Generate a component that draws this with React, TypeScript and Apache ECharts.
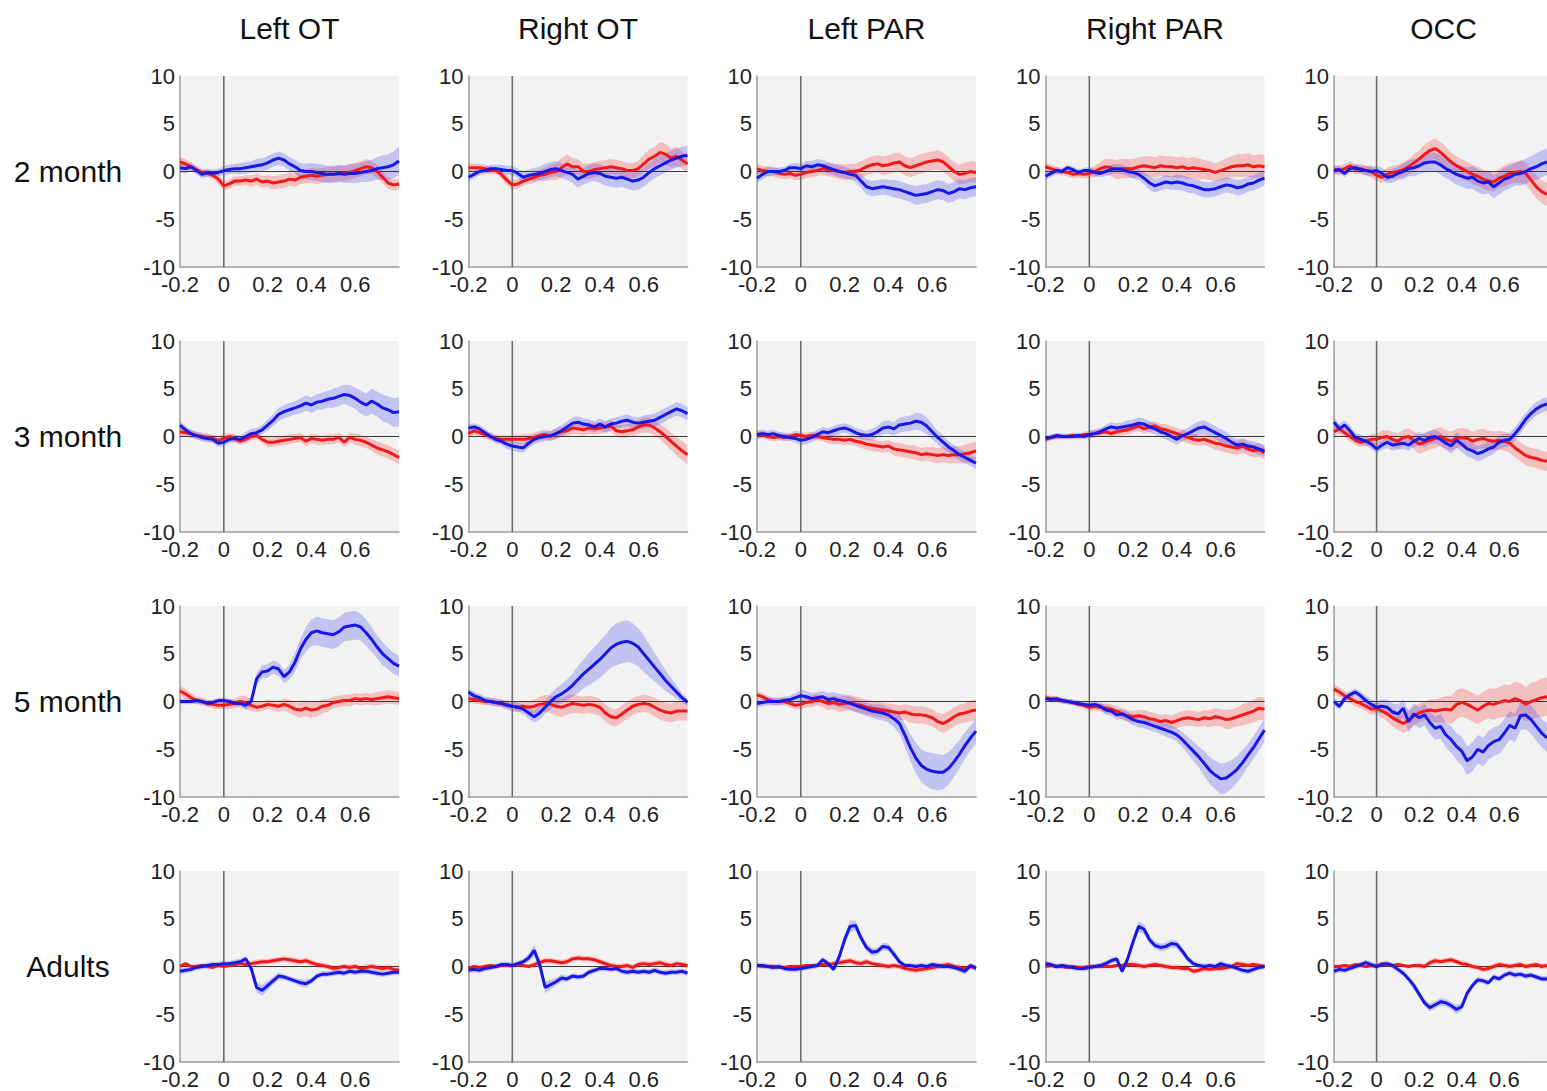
import React, { useEffect, useRef } from "react";
import * as echarts from "echarts";

// Sample times (s) shared by every waveform
const times = [
  -0.2, -0.175, -0.15, -0.125, -0.1, -0.075, -0.05, -0.025,
  0, 0.025, 0.05, 0.075, 0.1, 0.125, 0.15, 0.175,
  0.2, 0.225, 0.25, 0.275, 0.3, 0.325, 0.35, 0.375,
  0.4, 0.425, 0.45, 0.475, 0.5, 0.525, 0.55, 0.575,
  0.6, 0.625, 0.65, 0.675, 0.7, 0.725, 0.75, 0.775, 0.8,
];

const rowLabels = ["2 month", "3 month", "5 month", "Adults"];
const columnTitles = ["Left OT", "Right OT", "Left PAR", "Right PAR", "OCC"];

// ---------- 2 month ----------
const m2LotRed = [
  1.0, 0.8, 0.5, 0.2, -0.1, -0.2, -0.4, -0.8,
  -1.5, -1.3, -1.0, -1.0, -0.9, -1.0, -0.8, -1.1,
  -1.0, -1.2, -1.1, -1.0, -0.8, -0.9, -0.6, -0.5,
  -0.4, -0.5, -0.4, -0.3, -0.3, -0.2, -0.2, -0.1,
  0.1, 0.3, 0.5, 0.4, 0.0, -0.6, -1.2, -1.4, -1.3,
];
const m2LotRedSem = [
  0.5, 0.5, 0.5, 0.4, 0.4, 0.4, 0.4, 0.5,
  0.5, 0.5, 0.5, 0.5, 0.5, 0.6, 0.6, 0.6,
  0.6, 0.7, 0.7, 0.7, 0.7, 0.7, 0.7, 0.7,
  0.8, 0.8, 0.8, 0.8, 0.8, 0.8, 0.8, 0.8,
  0.8, 0.8, 0.8, 0.7, 0.7, 0.6, 0.6, 0.6, 0.6,
];
const m2LotBlue = [
  0.4, 0.3, 0.5, 0.1, -0.3, -0.1, -0.2, -0.1,
  0.1, 0.2, 0.3, 0.3, 0.4, 0.5, 0.6, 0.7,
  0.9, 1.2, 1.4, 1.2, 0.8, 0.5, 0.1, 0.0,
  0.0, -0.1, -0.2, -0.3, -0.3, -0.2, -0.3, -0.2,
  -0.2, -0.1, 0.0, 0.1, 0.3, 0.4, 0.5, 0.7, 1.1,
];
const m2LotBlueSem = [
  0.5, 0.5, 0.4, 0.4, 0.4, 0.4, 0.4, 0.4,
  0.5, 0.5, 0.5, 0.6, 0.6, 0.6, 0.7, 0.7,
  0.7, 0.7, 0.7, 0.7, 0.7, 0.7, 0.8, 0.8,
  0.9, 0.9, 0.9, 0.9, 0.9, 0.9, 0.9, 1.0,
  1.0, 1.0, 1.1, 1.1, 1.2, 1.3, 1.3, 1.4, 1.5,
];

const m2RotRed = [
  0.4, 0.4, 0.4, 0.3, 0.1, 0.1, -0.3, -0.9,
  -1.4, -1.3, -1.0, -0.8, -0.6, -0.4, -0.3, -0.1,
  0.0, 0.4, 0.8, 0.5, 0.5, 0.0, 0.0, 0.2,
  0.3, 0.4, 0.5, 0.4, 0.3, 0.1, 0.1, 0.3,
  0.8, 1.3, 1.6, 2.0, 1.8, 1.4, 1.6, 1.2, 0.8,
];
const m2RotRedSem = [
  0.4, 0.4, 0.4, 0.4, 0.4, 0.4, 0.4, 0.5,
  0.5, 0.5, 0.5, 0.5, 0.6, 0.6, 0.7, 0.8,
  0.9, 1.0, 1.0, 0.9, 0.8, 0.8, 0.8, 0.8,
  0.8, 0.8, 0.8, 0.8, 0.8, 0.8, 0.8, 0.8,
  0.9, 1.0, 1.0, 1.1, 1.1, 1.0, 1.0, 0.9, 0.9,
];
const m2RotBlue = [
  -0.6, -0.3, 0.0, 0.1, 0.3, 0.3, 0.2, 0.1,
  0.1, -0.2, -0.6, -0.4, -0.3, -0.2, 0.0, 0.2,
  0.3, 0.1, -0.1, -0.3, -0.8, -0.5, -0.2, -0.1,
  -0.2, -0.5, -0.6, -0.7, -0.6, -0.8, -1.0, -0.9,
  -0.6, -0.1, 0.3, 0.6, 0.9, 1.2, 1.4, 1.6, 1.7,
];
const m2RotBlueSem = [
  0.4, 0.4, 0.4, 0.4, 0.4, 0.4, 0.5, 0.5,
  0.5, 0.5, 0.6, 0.6, 0.7, 0.7, 0.8, 0.8,
  0.8, 0.8, 0.8, 0.9, 0.9, 0.9, 0.9, 0.9,
  1.0, 1.0, 1.0, 1.0, 1.0, 1.0, 1.0, 1.0,
  1.0, 1.0, 1.0, 1.0, 1.0, 1.0, 1.0, 1.0, 1.0,
];

const m2LparRed = [
  0.3, 0.1, 0.0, 0.0, -0.2, -0.3, -0.2, -0.4,
  -0.3, -0.1, 0.0, 0.1, 0.3, 0.2, 0.1, 0.0,
  -0.1, 0.0, 0.0, 0.2, 0.5, 0.7, 0.8, 0.6,
  0.7, 0.9, 1.0, 0.6, 0.4, 0.6, 0.8, 1.0,
  1.1, 1.2, 1.0, 0.5, 0.0, -0.3, -0.2, 0.0, -0.1,
];
const m2LparRedSem = [
  0.5, 0.5, 0.5, 0.5, 0.5, 0.5, 0.5, 0.5,
  0.6, 0.6, 0.6, 0.6, 0.6, 0.7, 0.7, 0.8,
  0.8, 0.8, 0.8, 0.9, 0.9, 0.9, 0.9, 1.0,
  1.0, 1.0, 1.0, 1.0, 1.0, 1.0, 1.0, 1.0,
  1.0, 1.0, 1.0, 1.0, 1.0, 1.0, 1.1, 1.1, 1.1,
];
const m2LparBlue = [
  -0.7, -0.3, 0.0, 0.0, 0.0, 0.1, 0.4, 0.4,
  0.3, 0.6, 0.5, 0.7, 0.6, 0.4, 0.2, 0.0,
  -0.1, -0.3, -0.4, -1.0, -1.6, -1.8, -1.7, -1.6,
  -1.7, -1.8, -1.9, -2.1, -2.3, -2.5, -2.4, -2.3,
  -2.1, -1.9, -2.0, -2.3, -2.1, -1.8, -1.9, -1.7, -1.6,
];
const m2LparBlueSem = [
  0.5, 0.5, 0.5, 0.4, 0.4, 0.4, 0.4, 0.5,
  0.5, 0.5, 0.6, 0.6, 0.6, 0.6, 0.6, 0.6,
  0.6, 0.6, 0.7, 0.7, 0.8, 0.8, 0.8, 0.8,
  0.8, 0.9, 0.9, 0.9, 0.9, 1.0, 1.0, 1.0,
  1.0, 1.0, 1.0, 1.0, 1.0, 1.0, 1.0, 1.0, 1.0,
];

const m2RparRed = [
  0.5, 0.3, 0.1, 0.0, -0.1, -0.3, -0.2, -0.3,
  -0.2, 0.0, 0.3, 0.5, 0.4, 0.2, 0.3, 0.3,
  0.3, 0.5, 0.6, 0.5, 0.4, 0.6, 0.5, 0.5,
  0.4, 0.5, 0.3, 0.4, 0.3, 0.2, 0.1, -0.1,
  0.1, 0.3, 0.5, 0.6, 0.6, 0.7, 0.5, 0.6, 0.5,
];
const m2RparRedSem = [
  0.4, 0.4, 0.4, 0.4, 0.4, 0.4, 0.4, 0.4,
  0.5, 0.6, 0.7, 0.8, 0.9, 1.0, 1.0, 1.0,
  1.0, 1.0, 1.0, 1.1, 1.1, 1.1, 1.1, 1.1,
  1.1, 1.1, 1.1, 1.1, 1.1, 1.0, 1.0, 1.0,
  1.0, 1.1, 1.1, 1.2, 1.2, 1.2, 1.2, 1.2, 1.2,
];
const m2RparBlue = [
  -0.5, -0.2, 0.1, 0.0, 0.4, 0.2, -0.1, 0.1,
  0.1, -0.1, -0.2, 0.0, 0.2, 0.3, 0.2, 0.0,
  -0.1, -0.3, -0.7, -1.2, -1.5, -1.3, -1.1, -1.2,
  -1.1, -1.2, -1.4, -1.5, -1.7, -1.9, -1.9, -1.8,
  -1.6, -1.4, -1.5, -1.7, -1.6, -1.3, -1.2, -0.9, -0.7,
];
const m2RparBlueSem = [
  0.4, 0.4, 0.4, 0.3, 0.3, 0.3, 0.3, 0.3,
  0.4, 0.4, 0.4, 0.5, 0.5, 0.5, 0.5, 0.5,
  0.6, 0.6, 0.6, 0.7, 0.7, 0.7, 0.7, 0.7,
  0.8, 0.8, 0.8, 0.8, 0.8, 0.8, 0.8, 0.8,
  0.8, 0.8, 0.8, 0.8, 0.8, 0.8, 0.8, 0.8, 0.8,
];

const m2OccRed = [
  0.2, 0.1, 0.3, 0.6, 0.2, 0.3, 0.1, 0.0,
  -0.4, -0.6, -0.3, -0.1, 0.0, 0.2, 0.5, 0.9,
  1.3, 1.8, 2.2, 2.4, 2.0, 1.5, 1.0, 0.6,
  0.3, 0.0, -0.3, -0.5, -0.8, -1.0, -1.1, -0.7,
  -0.5, -0.2, -0.1, 0.0, -0.2, -0.9, -1.6, -2.1, -2.4,
];
const m2OccRedSem = [
  0.5, 0.5, 0.5, 0.5, 0.5, 0.5, 0.5, 0.6,
  0.6, 0.6, 0.7, 0.7, 0.7, 0.8, 0.8, 0.9,
  0.9, 1.0, 1.0, 1.1, 1.1, 1.1, 1.0, 1.0,
  1.0, 1.0, 1.0, 1.0, 1.0, 1.0, 1.0, 1.0,
  1.1, 1.1, 1.1, 1.2, 1.2, 1.2, 1.2, 1.2, 1.2,
];
const m2OccBlue = [
  0.1, 0.2, -0.2, 0.3, 0.4, 0.2, 0.1, 0.0,
  0.1, -0.2, -0.6, -0.5, -0.2, 0.0, 0.3, 0.4,
  0.6, 0.9, 1.0, 1.0, 0.7, 0.3, 0.0, -0.3,
  -0.5, -0.7, -0.6, -1.0, -1.2, -1.1, -1.6, -1.2,
  -0.8, -0.6, -0.3, -0.2, 0.0, 0.3, 0.5, 0.8, 1.0,
];
const m2OccBlueSem = [
  0.4, 0.4, 0.4, 0.4, 0.4, 0.4, 0.5, 0.5,
  0.5, 0.6, 0.6, 0.7, 0.7, 0.8, 0.8, 0.9,
  0.9, 1.0, 1.0, 1.0, 1.0, 1.0, 1.0, 1.1,
  1.1, 1.1, 1.2, 1.2, 1.2, 1.2, 1.2, 1.2,
  1.2, 1.2, 1.2, 1.3, 1.3, 1.3, 1.4, 1.4, 1.4,
];

// ---------- 3 month ----------
const m3LotRed = [
  0.5, 0.4, 0.3, 0.1, 0.0, -0.1, -0.2, -0.4,
  -0.2, 0.0, -0.2, -0.5, -0.3, 0.0, 0.1, -0.3,
  -0.6, -0.6, -0.5, -0.4, -0.3, -0.2, -0.1, -0.5,
  -0.2, -0.3, -0.4, -0.3, -0.3, -0.1, -0.6, -0.1,
  -0.3, -0.4, -0.6, -0.9, -1.2, -1.4, -1.6, -1.9, -2.2,
];
const m3LotRedSem = [
  0.4, 0.4, 0.4, 0.4, 0.4, 0.4, 0.4, 0.4,
  0.4, 0.4, 0.4, 0.4, 0.4, 0.4, 0.4, 0.4,
  0.5, 0.5, 0.5, 0.5, 0.5, 0.5, 0.5, 0.5,
  0.5, 0.5, 0.5, 0.5, 0.5, 0.5, 0.5, 0.5,
  0.6, 0.6, 0.6, 0.6, 0.7, 0.7, 0.7, 0.7, 0.7,
];
const m3LotBlue = [
  1.2, 0.7, 0.3, 0.1, -0.1, -0.2, -0.3, -0.7,
  -0.6, -0.3, -0.2, -0.3, 0.0, 0.3, 0.4, 0.7,
  1.2, 1.7, 2.3, 2.6, 2.8, 3.0, 3.2, 3.5,
  3.3, 3.6, 3.7, 3.9, 4.0, 4.2, 4.4, 4.3,
  4.0, 3.6, 3.3, 3.7, 3.4, 3.0, 2.8, 2.5, 2.6,
];
const m3LotBlueSem = [
  0.4, 0.4, 0.4, 0.4, 0.4, 0.4, 0.4, 0.4,
  0.4, 0.4, 0.4, 0.4, 0.5, 0.5, 0.5, 0.5,
  0.6, 0.6, 0.7, 0.7, 0.7, 0.7, 0.8, 0.8,
  0.8, 0.8, 0.9, 0.9, 1.0, 1.0, 1.0, 1.1,
  1.1, 1.2, 1.2, 1.3, 1.3, 1.4, 1.4, 1.5, 1.5,
];

const m3RotRed = [
  0.3, 0.6, 0.4, 0.2, 0.0, -0.2, -0.3, -0.3,
  -0.3, -0.3, -0.3, -0.2, -0.1, 0.1, 0.2, 0.0,
  0.3, 0.5, 0.6, 0.9, 0.8, 0.7, 0.9, 0.8,
  0.9, 1.0, 1.1, 0.6, 0.5, 0.6, 0.7, 1.0,
  1.2, 1.2, 0.9, 0.5, 0.0, -0.5, -1.0, -1.5, -1.9,
];
const m3RotRedSem = [
  0.4, 0.4, 0.4, 0.4, 0.4, 0.4, 0.4, 0.4,
  0.4, 0.5, 0.5, 0.5, 0.5, 0.5, 0.5, 0.5,
  0.5, 0.5, 0.6, 0.6, 0.6, 0.6, 0.6, 0.6,
  0.6, 0.6, 0.6, 0.6, 0.7, 0.7, 0.7, 0.7,
  0.8, 0.8, 0.8, 0.8, 0.9, 0.9, 1.0, 1.0, 1.0,
];
const m3RotBlue = [
  0.9, 1.0, 0.8, 0.4, 0.0, -0.3, -0.5, -0.8,
  -1.0, -1.1, -1.2, -0.7, -0.3, -0.1, 0.0, 0.1,
  0.3, 0.6, 1.0, 1.4, 1.5, 1.3, 1.2, 1.0,
  1.3, 1.0, 1.3, 1.4, 1.6, 1.7, 1.5, 1.4,
  1.5, 1.6, 1.7, 2.0, 2.3, 2.6, 2.9, 2.7, 2.4,
];
const m3RotBlueSem = [
  0.4, 0.4, 0.4, 0.4, 0.4, 0.4, 0.4, 0.5,
  0.5, 0.5, 0.5, 0.5, 0.5, 0.5, 0.5, 0.5,
  0.6, 0.6, 0.6, 0.6, 0.6, 0.6, 0.6, 0.6,
  0.6, 0.6, 0.6, 0.6, 0.6, 0.6, 0.6, 0.6,
  0.7, 0.7, 0.7, 0.7, 0.7, 0.7, 0.7, 0.7, 0.7,
];

const m3LparRed = [
  0.1, 0.2, 0.0, -0.1, 0.0, -0.1, 0.0, 0.2,
  0.1, 0.0, 0.1, 0.0, -0.1, -0.2, -0.3, -0.3,
  -0.4, -0.3, -0.5, -0.6, -0.8, -0.9, -1.0, -1.1,
  -1.0, -1.3, -1.4, -1.5, -1.6, -1.7, -1.9, -1.8,
  -1.9, -2.0, -1.9, -2.0, -1.9, -1.9, -1.8, -1.7, -1.5,
];
const m3LparRedSem = [
  0.4, 0.4, 0.4, 0.4, 0.4, 0.4, 0.4, 0.4,
  0.4, 0.4, 0.4, 0.4, 0.4, 0.5, 0.5, 0.5,
  0.5, 0.5, 0.5, 0.6, 0.6, 0.6, 0.6, 0.6,
  0.6, 0.7, 0.7, 0.7, 0.7, 0.7, 0.7, 0.7,
  0.8, 0.8, 0.8, 0.8, 0.9, 0.9, 1.0, 1.0, 1.0,
];
const m3LparBlue = [
  0.2, 0.3, 0.2, 0.3, 0.1, 0.0, -0.1, -0.2,
  -0.4, -0.3, -0.1, 0.2, 0.5, 0.4, 0.6, 0.8,
  0.9, 0.7, 0.4, 0.2, 0.1, 0.2, 0.5, 0.9,
  1.0, 0.8, 1.2, 1.3, 1.4, 1.6, 1.5, 1.1,
  0.5, -0.1, -0.6, -1.1, -1.5, -1.9, -2.2, -2.5, -2.8,
];
const m3LparBlueSem = [
  0.4, 0.4, 0.4, 0.4, 0.4, 0.4, 0.4, 0.4,
  0.5, 0.5, 0.5, 0.5, 0.5, 0.5, 0.5, 0.5,
  0.5, 0.5, 0.5, 0.5, 0.5, 0.6, 0.6, 0.7,
  0.7, 0.7, 0.8, 0.8, 0.8, 0.9, 0.9, 0.9,
  0.8, 0.7, 0.7, 0.6, 0.6, 0.6, 0.6, 0.6, 0.6,
];

const m3RparRed = [
  -0.3, -0.1, 0.0, 0.0, 0.0, 0.1, 0.0, 0.2,
  0.2, 0.3, 0.4, 0.5, 0.3, 0.5, 0.6, 0.7,
  0.9, 1.1, 0.8, 1.0, 1.1, 0.8, 0.7, 0.5,
  0.3, 0.1, -0.1, -0.3, -0.4, -0.3, -0.5, -0.7,
  -0.8, -1.0, -1.1, -1.2, -1.0, -1.3, -1.5, -1.4, -1.7,
];
const m3RparRedSem = [
  0.3, 0.3, 0.3, 0.3, 0.3, 0.3, 0.3, 0.3,
  0.4, 0.4, 0.4, 0.4, 0.4, 0.4, 0.5, 0.5,
  0.5, 0.5, 0.5, 0.5, 0.5, 0.5, 0.6, 0.6,
  0.6, 0.6, 0.6, 0.6, 0.6, 0.6, 0.6, 0.7,
  0.7, 0.7, 0.7, 0.7, 0.7, 0.7, 0.7, 0.7, 0.7,
];
const m3RparBlue = [
  -0.2, -0.1, 0.1, 0.0, 0.0, 0.0, 0.1, 0.0,
  0.2, 0.3, 0.5, 0.8, 1.0, 0.9, 1.0, 1.1,
  1.2, 1.4, 1.3, 1.0, 0.8, 0.5, 0.3, 0.0,
  -0.3, 0.1, 0.3, 0.6, 0.9, 1.0, 0.7, 0.4,
  0.1, -0.2, -0.6, -0.9, -0.8, -1.0, -1.1, -1.3, -1.5,
];
const m3RparBlueSem = [
  0.3, 0.3, 0.3, 0.3, 0.3, 0.3, 0.3, 0.3,
  0.4, 0.4, 0.4, 0.4, 0.5, 0.5, 0.5, 0.6,
  0.6, 0.6, 0.6, 0.6, 0.6, 0.6, 0.6, 0.6,
  0.6, 0.6, 0.6, 0.7, 0.7, 0.7, 0.7, 0.7,
  0.7, 0.7, 0.6, 0.6, 0.6, 0.6, 0.6, 0.6, 0.6,
];

const m3OccRed = [
  0.5, 0.8, 0.4, 0.0, -0.4, -0.6, -0.5, -0.3,
  -0.3, -0.1, 0.0, -0.3, -0.5, -0.1, 0.0, -0.4,
  -0.8, -0.6, -0.4, -0.2, 0.0, -0.3, -0.5, -0.2,
  -0.1, -0.2, -0.5, -0.3, -0.2, -0.4, -0.5, -0.4,
  -0.5, -0.7, -1.2, -1.6, -2.0, -2.2, -2.3, -2.5, -2.6,
];
const m3OccRedSem = [
  0.5, 0.5, 0.5, 0.5, 0.5, 0.5, 0.5, 0.6,
  0.6, 0.7, 0.7, 0.8, 0.8, 0.8, 0.9, 0.9,
  1.0, 1.0, 1.0, 1.0, 1.0, 1.0, 1.0, 1.0,
  1.0, 1.0, 1.0, 1.0, 1.0, 1.0, 1.0, 1.0,
  1.0, 1.0, 1.0, 1.0, 1.0, 1.0, 1.0, 1.0, 1.0,
];
const m3OccBlue = [
  1.5, 0.8, 1.2, 0.6, -0.1, -0.3, -0.5, -0.8,
  -1.3, -0.9, -0.6, -0.9, -0.8, -0.7, -0.9, -0.5,
  -0.2, -0.4, -0.1, 0.0, -0.3, -0.7, -1.0, -0.4,
  -0.8, -1.3, -1.5, -1.8, -1.6, -1.3, -1.1, -0.6,
  -0.4, -0.3, 0.3, 1.0, 1.8, 2.4, 2.9, 3.2, 3.4,
];
const m3OccBlueSem = [
  0.5, 0.5, 0.5, 0.5, 0.5, 0.5, 0.5, 0.5,
  0.5, 0.5, 0.6, 0.6, 0.6, 0.6, 0.6, 0.6,
  0.7, 0.7, 0.7, 0.7, 0.7, 0.7, 0.8, 0.8,
  0.8, 0.8, 0.8, 0.8, 0.8, 0.8, 0.7, 0.7,
  0.7, 0.7, 0.7, 0.7, 0.7, 0.7, 0.7, 0.7, 0.7,
];

// ---------- 5 month ----------
const m5LotRed = [
  1.1, 0.8, 0.4, 0.1, 0.0, -0.2, -0.3, -0.4,
  -0.4, -0.3, -0.2, 0.0, -0.1, -0.4, -0.6, -0.5,
  -0.3, -0.4, -0.5, -0.3, -0.5, -0.8, -0.9, -0.7,
  -0.9, -0.8, -0.5, -0.4, -0.1, 0.0, 0.1, 0.1,
  0.3, 0.2, 0.3, 0.2, 0.3, 0.4, 0.5, 0.4, 0.3,
];
const m5LotRedSem = [
  0.5, 0.5, 0.5, 0.4, 0.4, 0.4, 0.4, 0.4,
  0.4, 0.5, 0.5, 0.6, 0.7, 0.6, 0.5, 0.5,
  0.5, 0.5, 0.6, 0.6, 0.7, 0.7, 0.8, 0.8,
  0.8, 0.8, 0.7, 0.7, 0.6, 0.6, 0.6, 0.6,
  0.6, 0.6, 0.6, 0.6, 0.7, 0.7, 0.7, 0.7, 0.7,
];
const m5LotBlue = [
  0.0, 0.0, 0.0, 0.1, 0.0, -0.2, -0.1, 0.1,
  0.1, 0.0, -0.2, -0.2, -0.4, 0.0, 2.4, 3.1,
  3.2, 3.6, 3.4, 2.6, 3.1, 4.1, 5.5, 6.5,
  7.2, 7.4, 7.2, 7.1, 7.0, 7.3, 7.8, 7.9,
  8.0, 7.8, 7.2, 6.5, 5.7, 5.0, 4.5, 4.0, 3.7,
];
const m5LotBlueSem = [
  0.3, 0.3, 0.3, 0.3, 0.3, 0.3, 0.3, 0.3,
  0.3, 0.3, 0.3, 0.3, 0.4, 0.5, 0.6, 0.7,
  0.7, 0.7, 0.7, 0.7, 0.8, 1.0, 1.1, 1.3,
  1.4, 1.5, 1.5, 1.5, 1.5, 1.5, 1.5, 1.5,
  1.5, 1.4, 1.4, 1.3, 1.2, 1.2, 1.1, 1.1, 1.1,
];

const m5RotRed = [
  0.3, 0.2, 0.1, 0.0, 0.0, -0.1, -0.2, -0.3,
  -0.5, -0.6, -0.5, -0.6, -0.5, -0.3, -0.2, -0.3,
  -0.5, -0.6, -0.4, -0.2, -0.3, -0.4, -0.3, -0.4,
  -0.6, -1.2, -1.6, -1.7, -1.3, -0.9, -0.5, -0.3,
  -0.2, -0.3, -0.6, -0.9, -1.1, -1.2, -1.0, -1.0, -1.0,
];
const m5RotRedSem = [
  0.4, 0.4, 0.4, 0.4, 0.4, 0.4, 0.4, 0.4,
  0.5, 0.5, 0.5, 0.6, 0.7, 0.8, 0.9, 0.9,
  1.0, 1.0, 1.0, 1.0, 0.9, 0.9, 0.9, 0.9,
  0.9, 0.9, 0.9, 0.9, 0.9, 0.9, 0.9, 0.9,
  0.9, 0.9, 1.0, 1.0, 1.0, 1.0, 1.0, 1.0, 1.0,
];
const m5RotBlue = [
  1.0, 0.6, 0.4, 0.1, 0.0, -0.1, -0.2, -0.4,
  -0.5, -0.6, -0.8, -1.2, -1.6, -1.2, -0.6, 0.0,
  0.5, 0.8, 1.2, 1.7, 2.3, 2.9, 3.4, 3.9,
  4.4, 5.0, 5.6, 6.0, 6.2, 6.3, 6.1, 5.7,
  5.0, 4.3, 3.6, 2.9, 2.2, 1.6, 1.0, 0.4, -0.1,
];
const m5RotBlueSem = [
  0.4, 0.4, 0.4, 0.4, 0.4, 0.4, 0.4, 0.4,
  0.5, 0.5, 0.5, 0.6, 0.6, 0.7, 0.7, 0.8,
  0.9, 1.0, 1.1, 1.2, 1.4, 1.5, 1.7, 1.8,
  1.9, 2.0, 2.1, 2.2, 2.2, 2.2, 2.1, 2.0,
  1.9, 1.7, 1.5, 1.3, 1.1, 0.9, 0.7, 0.5, 0.4,
];

const m5LparRed = [
  0.7, 0.5, 0.2, 0.0, 0.0, 0.0, -0.2, -0.4,
  -0.3, -0.1, 0.0, 0.2, 0.0, -0.2, -0.1, -0.3,
  -0.2, -0.1, -0.3, -0.4, -0.6, -0.7, -0.8, -0.9,
  -1.0, -1.1, -1.2, -1.1, -1.3, -1.4, -1.4, -1.5,
  -1.7, -2.1, -2.3, -2.0, -1.6, -1.3, -1.2, -1.0, -0.9,
];
const m5LparRedSem = [
  0.4, 0.4, 0.4, 0.4, 0.4, 0.4, 0.4, 0.4,
  0.5, 0.5, 0.6, 0.6, 0.6, 0.7, 0.7, 0.8,
  0.8, 0.8, 0.8, 0.8, 0.8, 0.8, 0.8, 0.8,
  0.8, 0.8, 0.8, 0.8, 0.9, 0.9, 0.9, 0.9,
  0.9, 0.9, 1.0, 1.0, 1.0, 1.0, 1.0, 1.1, 1.1,
];
const m5LparBlue = [
  -0.2, -0.1, 0.0, 0.0, 0.0, 0.1, 0.2, 0.4,
  0.6, 0.5, 0.3, 0.4, 0.5, 0.2, 0.3, 0.1,
  0.0, -0.2, -0.4, -0.6, -0.8, -1.0, -1.1, -1.2,
  -1.4, -1.8, -2.3, -3.5, -4.8, -5.9, -6.7, -7.1,
  -7.3, -7.4, -7.4, -7.0, -6.3, -5.5, -4.6, -3.8, -3.1,
];
const m5LparBlueSem = [
  0.4, 0.4, 0.4, 0.4, 0.4, 0.4, 0.4, 0.5,
  0.6, 0.6, 0.6, 0.6, 0.6, 0.7, 0.7, 0.7,
  0.7, 0.7, 0.7, 0.7, 0.7, 0.7, 0.8, 0.8,
  0.8, 0.9, 1.0, 1.2, 1.4, 1.6, 1.7, 1.8,
  1.9, 1.9, 1.8, 1.7, 1.6, 1.5, 1.4, 1.3, 1.3,
];

const m5RparRed = [
  0.4, 0.3, 0.2, 0.1, 0.0, -0.1, -0.3, -0.4,
  -0.6, -0.5, -0.6, -0.7, -0.8, -1.0, -1.3, -1.5,
  -1.6, -1.5, -1.6, -1.8, -1.9, -2.1, -2.0, -2.2,
  -2.0, -1.8, -1.7, -1.8, -1.9, -1.7, -1.8, -1.6,
  -1.7, -1.9, -1.8, -1.6, -1.4, -1.2, -1.0, -0.7, -0.8,
];
const m5RparRedSem = [
  0.3, 0.3, 0.3, 0.3, 0.3, 0.3, 0.3, 0.3,
  0.4, 0.4, 0.4, 0.5, 0.5, 0.5, 0.6, 0.6,
  0.6, 0.6, 0.7, 0.7, 0.7, 0.7, 0.7, 0.7,
  0.8, 0.8, 0.8, 0.8, 0.8, 0.8, 0.9, 0.9,
  0.9, 1.0, 1.0, 1.0, 1.1, 1.1, 1.2, 1.2, 1.2,
];
const m5RparBlue = [
  0.3, 0.2, 0.3, 0.1, 0.0, -0.1, -0.2, -0.3,
  -0.4, -0.3, -0.5, -0.9, -1.0, -1.4, -1.3, -1.6,
  -1.9, -2.1, -2.2, -2.4, -2.6, -2.8, -3.0, -3.2,
  -3.5, -4.0, -4.6, -5.2, -5.8, -6.5, -7.2, -7.7,
  -8.1, -8.0, -7.6, -7.1, -6.4, -5.6, -4.8, -3.9, -3.0,
];
const m5RparBlueSem = [
  0.3, 0.3, 0.3, 0.3, 0.3, 0.3, 0.3, 0.3,
  0.4, 0.4, 0.4, 0.5, 0.5, 0.5, 0.5, 0.5,
  0.6, 0.6, 0.6, 0.6, 0.6, 0.6, 0.7, 0.7,
  0.7, 0.8, 0.9, 1.0, 1.1, 1.3, 1.4, 1.5,
  1.6, 1.6, 1.5, 1.4, 1.3, 1.2, 1.2, 1.2, 1.2,
];

const m5OccRed = [
  1.3, 1.0, 0.6, 0.3, 0.0, -0.2, -0.5, -0.8,
  -0.7, -1.0, -1.3, -1.7, -2.0, -2.3, -2.0, -1.5,
  -1.2, -1.0, -0.9, -1.0, -0.9, -0.8, -0.9, -0.3,
  -0.1, -0.3, -0.6, -0.9, -0.5, -0.2, -0.3, -0.1,
  0.1, 0.0, 0.3, 0.1, -0.3, 0.0, 0.2, 0.4, 0.5,
];
const m5OccRedSem = [
  0.5, 0.5, 0.5, 0.5, 0.5, 0.5, 0.5, 0.6,
  0.6, 0.7, 0.8, 0.9, 1.0, 1.0, 1.0, 1.0,
  1.0, 1.0, 1.1, 1.2, 1.3, 1.4, 1.5, 1.5,
  1.5, 1.5, 1.5, 1.5, 1.5, 1.6, 1.6, 1.6,
  1.7, 1.7, 1.8, 1.8, 1.8, 1.9, 1.9, 2.0, 2.0,
];
const m5OccBlue = [
  0.0, -0.5, 0.3, 0.7, 1.0, 0.6, 0.1, -0.3,
  -0.6, -0.5, -0.6, -1.1, -1.3, -0.7, -2.1, -1.3,
  -1.7, -1.4, -2.2, -2.8, -2.6, -3.5, -4.0, -4.7,
  -5.2, -6.2, -5.8, -5.0, -5.3, -4.6, -4.2, -4.0,
  -3.3, -2.5, -2.8, -1.5, -1.4, -1.9, -2.6, -3.3, -3.8,
];
const m5OccBlueSem = [
  0.4, 0.4, 0.4, 0.4, 0.4, 0.4, 0.5, 0.5,
  0.6, 0.7, 0.8, 0.9, 1.0, 1.0, 1.1, 1.1,
  1.1, 1.1, 1.2, 1.2, 1.3, 1.3, 1.4, 1.4,
  1.5, 1.5, 1.5, 1.5, 1.5, 1.5, 1.5, 1.5,
  1.5, 1.5, 1.5, 1.5, 1.5, 1.5, 1.5, 1.5, 1.5,
];

// ---------- Adults ----------
const adLotRed = [
  0.0, 0.3, 0.0, 0.0, 0.1, 0.0, -0.1, 0.1,
  0.0, 0.1, 0.2, 0.3, 0.2, 0.3, 0.4, 0.5,
  0.5, 0.6, 0.7, 0.8, 0.7, 0.6, 0.5, 0.6,
  0.4, 0.2, 0.1, 0.0, -0.2, -0.1, 0.0, -0.1,
  0.0, -0.2, -0.1, 0.0, -0.1, -0.2, -0.1, -0.3, -0.4,
];
const adLotRedSem = [
  0.2, 0.2, 0.2, 0.2, 0.2, 0.2, 0.2, 0.2,
  0.2, 0.2, 0.2, 0.2, 0.2, 0.3, 0.3, 0.3,
  0.3, 0.3, 0.3, 0.3, 0.3, 0.3, 0.3, 0.3,
  0.3, 0.3, 0.3, 0.3, 0.3, 0.3, 0.3, 0.3,
  0.3, 0.3, 0.3, 0.3, 0.3, 0.3, 0.3, 0.3, 0.3,
];
const adLotBlue = [
  -0.5, -0.4, -0.3, -0.1, 0.0, 0.1, 0.2, 0.2,
  0.3, 0.3, 0.4, 0.5, 0.8, -0.2, -2.2, -2.5,
  -2.0, -1.5, -1.0, -1.1, -1.3, -1.5, -1.7, -1.8,
  -1.5, -1.0, -0.8, -0.8, -0.7, -0.6, -0.7, -0.5,
  -0.6, -0.5, -0.5, -0.6, -0.7, -0.8, -0.7, -0.6, -0.6,
];
const adLotBlueSem = [
  0.3, 0.3, 0.3, 0.3, 0.3, 0.3, 0.3, 0.3,
  0.3, 0.3, 0.3, 0.3, 0.3, 0.4, 0.5, 0.6,
  0.5, 0.4, 0.4, 0.3, 0.3, 0.3, 0.4, 0.4,
  0.3, 0.3, 0.3, 0.3, 0.3, 0.3, 0.3, 0.3,
  0.3, 0.3, 0.3, 0.3, 0.3, 0.3, 0.3, 0.3, 0.3,
];

const adRotRed = [
  -0.2, 0.0, -0.1, 0.0, 0.1, 0.0, 0.1, 0.1,
  0.1, 0.2, 0.1, 0.0, 0.2, 0.4, 0.6, 0.6,
  0.5, 0.4, 0.5, 0.8, 0.9, 0.8, 0.8, 0.7,
  0.5, 0.3, 0.1, 0.0, 0.0, 0.1, -0.1, 0.2,
  0.3, 0.2, 0.3, 0.4, 0.2, 0.1, 0.3, 0.2, 0.1,
];
const adRotRedSem = [
  0.2, 0.2, 0.2, 0.2, 0.2, 0.2, 0.2, 0.2,
  0.2, 0.2, 0.2, 0.2, 0.3, 0.3, 0.3, 0.3,
  0.3, 0.3, 0.3, 0.3, 0.3, 0.3, 0.3, 0.3,
  0.3, 0.3, 0.3, 0.3, 0.3, 0.3, 0.3, 0.3,
  0.3, 0.3, 0.3, 0.3, 0.3, 0.3, 0.3, 0.3, 0.3,
];
const adRotBlue = [
  -0.4, -0.3, -0.4, -0.2, -0.1, 0.0, 0.2, 0.2,
  0.1, 0.3, 0.5, 0.9, 1.7, 0.2, -2.2, -1.9,
  -1.6, -1.2, -1.3, -1.0, -1.1, -1.0, -0.6, -0.4,
  -0.2, -0.2, -0.3, -0.2, -0.5, -0.6, -0.5, -0.6,
  -0.5, -0.6, -0.4, -0.6, -0.7, -0.6, -0.6, -0.5, -0.7,
];
const adRotBlueSem = [
  0.3, 0.3, 0.3, 0.3, 0.3, 0.3, 0.3, 0.3,
  0.3, 0.3, 0.3, 0.4, 0.6, 0.6, 0.6, 0.5,
  0.4, 0.4, 0.3, 0.3, 0.3, 0.3, 0.3, 0.3,
  0.3, 0.3, 0.3, 0.3, 0.3, 0.3, 0.3, 0.3,
  0.3, 0.3, 0.3, 0.3, 0.3, 0.3, 0.3, 0.3, 0.3,
];

const adLparRed = [
  0.1, 0.0, 0.0, 0.0, -0.1, -0.1, 0.0, 0.0,
  0.0, 0.1, 0.1, 0.1, 0.2, 0.2, 0.3, 0.4,
  0.5, 0.6, 0.4, 0.3, 0.5, 0.3, 0.2, 0.1,
  0.0, 0.1, 0.0, -0.2, -0.3, -0.4, -0.3, -0.2,
  -0.1, 0.0, 0.1, 0.2, 0.0, -0.1, -0.2, 0.0, -0.1,
];
const adLparRedSem = [
  0.2, 0.2, 0.2, 0.2, 0.2, 0.2, 0.2, 0.2,
  0.2, 0.2, 0.2, 0.2, 0.2, 0.2, 0.3, 0.3,
  0.3, 0.3, 0.3, 0.3, 0.3, 0.3, 0.3, 0.3,
  0.3, 0.3, 0.3, 0.3, 0.3, 0.3, 0.3, 0.3,
  0.3, 0.3, 0.3, 0.3, 0.3, 0.3, 0.3, 0.3, 0.3,
];
const adLparBlue = [
  0.1, 0.1, 0.0, -0.1, 0.0, -0.2, -0.3, -0.3,
  -0.2, -0.1, 0.0, 0.1, 0.7, 0.3, -0.3, 1.0,
  2.8, 4.2, 4.3, 3.0, 2.0, 1.5, 1.6, 2.1,
  2.0, 1.3, 0.5, 0.1, 0.1, 0.0, 0.1, 0.0,
  0.2, 0.1, 0.0, 0.0, -0.1, -0.3, -0.5, 0.1, -0.2,
];
const adLparBlueSem = [
  0.3, 0.3, 0.3, 0.3, 0.3, 0.3, 0.3, 0.3,
  0.3, 0.3, 0.3, 0.3, 0.3, 0.3, 0.3, 0.4,
  0.5, 0.6, 0.5, 0.4, 0.4, 0.4, 0.4, 0.4,
  0.4, 0.4, 0.3, 0.3, 0.3, 0.3, 0.3, 0.3,
  0.3, 0.3, 0.3, 0.3, 0.3, 0.3, 0.3, 0.3, 0.3,
];

const adRparRed = [
  0.0, 0.1, 0.0, 0.0, -0.1, 0.0, -0.1, -0.1,
  0.0, 0.0, 0.0, 0.0, 0.0, 0.1, 0.1, 0.2,
  0.2, 0.1, 0.0, 0.1, 0.2, 0.1, 0.0, -0.1,
  -0.1, -0.2, -0.2, -0.5, -0.4, -0.2, -0.3, -0.2,
  -0.2, -0.1, 0.0, 0.3, 0.2, 0.1, 0.2, 0.1, 0.0,
];
const adRparRedSem = [
  0.2, 0.2, 0.2, 0.2, 0.2, 0.2, 0.2, 0.2,
  0.2, 0.2, 0.2, 0.2, 0.2, 0.2, 0.2, 0.3,
  0.3, 0.3, 0.3, 0.3, 0.3, 0.3, 0.3, 0.3,
  0.3, 0.3, 0.3, 0.3, 0.3, 0.3, 0.3, 0.3,
  0.3, 0.3, 0.3, 0.3, 0.3, 0.3, 0.3, 0.3, 0.3,
];
const adRparBlue = [
  0.3, 0.2, 0.0, 0.1, 0.0, -0.1, -0.2, -0.2,
  -0.1, 0.0, 0.1, 0.3, 0.6, 0.8, -0.5, 0.8,
  2.6, 4.2, 3.9, 2.8, 2.2, 2.0, 2.1, 2.4,
  2.3, 1.6, 0.8, 0.3, 0.1, 0.0, 0.1, 0.0,
  0.3, 0.1, 0.0, -0.2, -0.4, -0.5, -0.3, -0.1, 0.0,
];
const adRparBlueSem = [
  0.3, 0.3, 0.3, 0.3, 0.3, 0.3, 0.3, 0.3,
  0.3, 0.3, 0.3, 0.3, 0.3, 0.3, 0.3, 0.4,
  0.5, 0.6, 0.5, 0.4, 0.4, 0.4, 0.4, 0.4,
  0.4, 0.4, 0.3, 0.3, 0.3, 0.3, 0.3, 0.3,
  0.3, 0.3, 0.3, 0.3, 0.3, 0.3, 0.3, 0.3, 0.3,
];

const adOccRed = [
  0.0, 0.0, 0.1, 0.0, 0.2, 0.1, 0.0, 0.1,
  0.0, 0.3, 0.2, 0.1, 0.2, 0.1, 0.0, 0.1,
  0.1, 0.0, 0.4, 0.6, 0.5, 0.6, 0.7, 0.5,
  0.3, 0.2, 0.0, -0.1, -0.3, -0.2, 0.0, 0.2,
  0.1, 0.0, 0.1, 0.2, 0.0, 0.1, 0.2, 0.0, 0.1,
];
const adOccRedSem = [
  0.2, 0.2, 0.2, 0.2, 0.2, 0.2, 0.2, 0.2,
  0.2, 0.2, 0.2, 0.2, 0.2, 0.2, 0.2, 0.2,
  0.3, 0.3, 0.3, 0.3, 0.3, 0.3, 0.3, 0.3,
  0.3, 0.3, 0.3, 0.3, 0.3, 0.3, 0.3, 0.3,
  0.3, 0.3, 0.3, 0.3, 0.3, 0.3, 0.3, 0.3, 0.3,
];
const adOccBlue = [
  -0.5, -0.3, -0.4, -0.2, 0.0, 0.2, 0.4, 0.2,
  0.0, 0.2, 0.3, 0.1, -0.3, -0.7, -1.3, -2.0,
  -2.9, -3.8, -4.3, -4.0, -3.7, -3.8, -4.1, -4.5,
  -4.2, -2.8, -2.0, -1.4, -1.5, -1.7, -1.1, -1.3,
  -0.9, -0.7, -0.9, -0.8, -1.0, -0.9, -1.1, -1.3, -1.3,
];
const adOccBlueSem = [
  0.3, 0.3, 0.3, 0.3, 0.3, 0.3, 0.3, 0.3,
  0.3, 0.3, 0.3, 0.3, 0.3, 0.3, 0.3, 0.4,
  0.4, 0.4, 0.4, 0.4, 0.4, 0.4, 0.4, 0.5,
  0.4, 0.4, 0.3, 0.3, 0.3, 0.3, 0.3, 0.3,
  0.3, 0.3, 0.3, 0.3, 0.3, 0.3, 0.3, 0.3, 0.3,
];

// Each panel: [red mean, red SEM, blue mean, blue SEM]
const panelRows = [
  [
    [m2LotRed, m2LotRedSem, m2LotBlue, m2LotBlueSem],
    [m2RotRed, m2RotRedSem, m2RotBlue, m2RotBlueSem],
    [m2LparRed, m2LparRedSem, m2LparBlue, m2LparBlueSem],
    [m2RparRed, m2RparRedSem, m2RparBlue, m2RparBlueSem],
    [m2OccRed, m2OccRedSem, m2OccBlue, m2OccBlueSem],
  ],
  [
    [m3LotRed, m3LotRedSem, m3LotBlue, m3LotBlueSem],
    [m3RotRed, m3RotRedSem, m3RotBlue, m3RotBlueSem],
    [m3LparRed, m3LparRedSem, m3LparBlue, m3LparBlueSem],
    [m3RparRed, m3RparRedSem, m3RparBlue, m3RparBlueSem],
    [m3OccRed, m3OccRedSem, m3OccBlue, m3OccBlueSem],
  ],
  [
    [m5LotRed, m5LotRedSem, m5LotBlue, m5LotBlueSem],
    [m5RotRed, m5RotRedSem, m5RotBlue, m5RotBlueSem],
    [m5LparRed, m5LparRedSem, m5LparBlue, m5LparBlueSem],
    [m5RparRed, m5RparRedSem, m5RparBlue, m5RparBlueSem],
    [m5OccRed, m5OccRedSem, m5OccBlue, m5OccBlueSem],
  ],
  [
    [adLotRed, adLotRedSem, adLotBlue, adLotBlueSem],
    [adRotRed, adRotRedSem, adRotBlue, adRotBlueSem],
    [adLparRed, adLparRedSem, adLparBlue, adLparBlueSem],
    [adRparRed, adRparRedSem, adRparBlue, adRparBlueSem],
    [adOccRed, adOccRedSem, adOccBlue, adOccBlueSem],
  ],
];

// Layout of the small multiples
const GRID_LEFT = 180;
const GRID_STEP_X = 288.5;
const GRID_W = 219;
const GRID_TOP = 76;
const GRID_STEP_Y = 265;
const GRID_H = 191;

const FONT = '"Liberation Sans", Arial, Helvetica, sans-serif';
const RED = "#f01818";
const BLUE = "#1818e6";
const RED_BAND = "rgba(250, 60, 60, 0.28)";
const BLUE_BAND = "rgba(60, 60, 245, 0.26)";

function bandSeries(k: number, mean: number[], sem: number[], fill: string, z: number) {
  return {
    type: "custom",
    xAxisIndex: k,
    yAxisIndex: k,
    silent: true,
    clip: true,
    z,
    data: [[times[0], mean[0]]],
    renderItem: (_params: any, api: any) => {
      const upper = times.map((t, i) => api.coord([t, mean[i] + sem[i]]));
      const lower = times.map((t, i) => api.coord([t, mean[i] - sem[i]])).reverse();
      return {
        type: "polygon",
        shape: { points: upper.concat(lower) },
        style: { fill, stroke: null },
      };
    },
  };
}

function zeroLineSeries(k: number) {
  return {
    type: "custom",
    xAxisIndex: k,
    yAxisIndex: k,
    silent: true,
    z: 3,
    data: [[0, 0]],
    renderItem: (_params: any, api: any) => {
      const vTop = api.coord([0, 10]);
      const vBot = api.coord([0, -10]);
      const hL = api.coord([-0.2, 0]);
      const hR = api.coord([0.8, 0]);
      return {
        type: "group",
        children: [
          {
            type: "line",
            shape: { x1: vTop[0], y1: vTop[1], x2: vBot[0], y2: vBot[1] },
            style: { stroke: "#6e6e6e", lineWidth: 1.6 },
          },
          {
            type: "line",
            shape: { x1: hL[0], y1: hL[1], x2: hR[0], y2: hR[1] },
            style: { stroke: "#3a3a3a", lineWidth: 1.1 },
          },
        ],
      };
    },
  };
}

function meanSeries(k: number, mean: number[], color: string, z: number) {
  return {
    type: "line",
    xAxisIndex: k,
    yAxisIndex: k,
    silent: true,
    z,
    showSymbol: false,
    symbol: "none",
    data: times.map((t, i) => [t, mean[i]]),
    lineStyle: { color, width: 3 },
    itemStyle: { color },
  };
}

function buildOption() {
  const grid: any[] = [];
  const xAxis: any[] = [];
  const yAxis: any[] = [];
  const series: any[] = [];
  const graphic: any[] = [];

  panelRows.forEach((row, r) => {
    row.forEach((panel, c) => {
      const k = grid.length;
      const left = GRID_LEFT + c * GRID_STEP_X;
      const top = GRID_TOP + r * GRID_STEP_Y;
      grid.push({
        left,
        top,
        width: GRID_W,
        height: GRID_H,
        show: true,
        backgroundColor: "#f2f2f2",
        borderWidth: 0,
      });
      xAxis.push({
        type: "value",
        gridIndex: k,
        min: -0.2,
        max: 0.8,
        interval: 0.2,
        axisLine: { show: true, onZero: false, lineStyle: { color: "#9c9c9c", width: 1.5 } },
        axisTick: { show: false },
        splitLine: { show: false },
        axisLabel: {
          show: true,
          showMaxLabel: false,
          showMinLabel: true,
          margin: 9,
          lineHeight: 16,
          color: "#1e1e1e",
          fontSize: 22,
          fontFamily: FONT,
          formatter: (v: number) => {
            const rv = Math.round(v * 10) / 10;
            return rv === 0 ? "0" : String(rv);
          },
        },
      });
      yAxis.push({
        type: "value",
        gridIndex: k,
        min: -10,
        max: 10,
        interval: 5,
        axisLine: { show: true, onZero: false, lineStyle: { color: "#9c9c9c", width: 1.5 } },
        axisTick: { show: false },
        splitLine: { show: false },
        axisLabel: {
          show: true,
          margin: 5,
          lineHeight: 16,
          color: "#1e1e1e",
          fontSize: 22,
          fontFamily: FONT,
        },
      });
      const [red, redSem, blue, blueSem] = panel;
      series.push(bandSeries(k, red, redSem, RED_BAND, 1));
      series.push(bandSeries(k, blue, blueSem, BLUE_BAND, 2));
      series.push(zeroLineSeries(k));
      series.push(meanSeries(k, red, RED, 4));
      series.push(meanSeries(k, blue, BLUE, 5));
    });

    graphic.push({
      type: "text",
      x: 68,
      y: GRID_TOP + r * GRID_STEP_Y + GRID_H / 2,
      style: {
        text: rowLabels[r],
        font: `30px ${FONT}`,
        fill: "#111",
        textAlign: "center",
        textVerticalAlign: "middle",
      },
    });
  });

  columnTitles.forEach((title, c) => {
    graphic.push({
      type: "text",
      x: GRID_LEFT + c * GRID_STEP_X + GRID_W / 2,
      y: 28,
      style: {
        text: title,
        font: `30px ${FONT}`,
        fill: "#111",
        textAlign: "center",
        textVerticalAlign: "middle",
      },
    });
  });

  return {
    animation: false,
    backgroundColor: "#ffffff",
    grid,
    xAxis,
    yAxis,
    series,
    graphic,
  };
}

export default function App() {
  const ref = useRef<HTMLDivElement>(null);

  useEffect(() => {
    if (!ref.current) return;
    const chart = echarts.init(ref.current, undefined, { renderer: "svg" });
    chart.setOption(buildOption() as any);
    return () => chart.dispose();
  }, []);

  return (
    <div
      ref={ref}
      style={{ position: "absolute", left: 0, top: 0, width: 1547, height: 1091, background: "#fff" }}
    />
  );
}
